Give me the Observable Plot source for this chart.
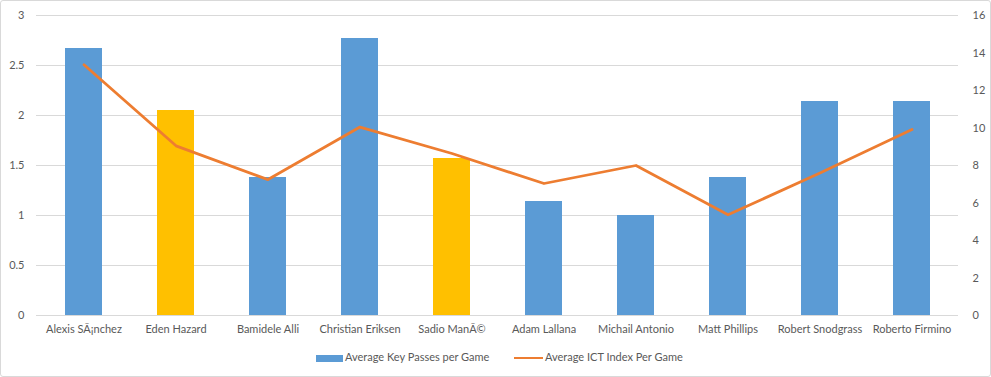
<!DOCTYPE html>
<html><head><meta charset="utf-8">
<script src="https://cdn.jsdelivr.net/npm/d3@7"></script>
<script src="https://cdn.jsdelivr.net/npm/@observablehq/plot@0.6"></script>
<style>
html,body{margin:0;padding:0;background:#fff;}
#frame{position:relative;width:989px;height:375px;border:1px solid #d9d9d9;border-radius:3px;overflow:hidden;font-family:Lato,"Open Sans",sans-serif;}
#chart{position:absolute;left:0;top:0;}
#legend{position:absolute;left:0;top:348px;width:989px;font-size:11px;color:#595959;}
.item{position:absolute;top:0;white-space:nowrap;line-height:16px;}
</style></head>
<body>
<div id="frame"><div id="chart"></div><div id="legend"></div></div>
<script>
const players = ["Alexis SÃ¡nchez","Eden Hazard","Bamidele Alli","Christian Eriksen","Sadio ManÃ©","Adam Lallana","Michail Antonio","Matt Phillips","Robert Snodgrass","Roberto Firmino"];
const keyPasses = [2.67,2.05,1.38,2.77,1.57,1.14,1.0,1.38,2.14,2.14];
const ictIndex = [13.37,9.05,7.25,10.05,8.64,7.04,8.0,5.37,7.6,9.92];
const highlighted = ["Eden Hazard","Sadio ManÃ©"];
const leftTicks = [0,0.5,1,1.5,2,2.5,3];
const rightTicks = [0,2,4,6,8,10,12,14,16];
const seriesNames = ["Average Key Passes per Game","Average ICT Index Per Game"];

const leftMax = 3, rightMax = 16;
const k = leftMax / rightMax;
const rows = players.map((p,i)=>({player:p, kp:keyPasses[i], ict:ictIndex[i], ictScaled:ictIndex[i]*k, hl:highlighted.includes(p)}));

const textColor = "#595959";
const plot = Plot.plot({
  width: 989, height: 345,
  marginLeft: 35, marginRight: 32, marginTop: 14, marginBottom: 31,
  style: {fontFamily: "Lato, 'Open Sans', sans-serif", fontSize: "11px", color: textColor, background: "transparent"},
  x: {domain: players, paddingInner: 0.6, paddingOuter: 0.3, label: null},
  y: {domain: [0, leftMax], label: null},
  marks: [
    Plot.gridY(leftTicks, {stroke: "#d9d9d9", strokeOpacity: 1}),
    Plot.barY(rows, {x: "player", y: "kp", fill: d => d.hl ? "#FFC000" : "#5B9BD5"}),
    Plot.line(rows, {x: "player", y: "ictScaled", stroke: "#ED7D31", strokeWidth: 2.8, curve: "linear"}),
    Plot.axisY(leftTicks, {anchor: "left", tickSize: 0, tickPadding: 12, tickFormat: d => String(d), label: null, fill: textColor}),
    Plot.axisY(rightTicks.map(v => v*k), {anchor: "right", tickSize: 0, tickPadding: 14, tickFormat: v => String(Math.round(v/k)), label: null, fill: textColor}),
    Plot.axisX({tickSize: 0, tickPadding: 10, label: null, fill: textColor})
  ]
});
document.getElementById("chart").appendChild(plot);

const legend = document.getElementById("legend");
legend.innerHTML = `
<div class="item" style="left:315px"><span style="display:inline-block;width:27px;height:7px;background:#5B9BD5;vertical-align:middle;margin-right:2px"></span>${seriesNames[0]}</div>
<div class="item" style="left:513px"><span style="display:inline-block;width:29px;height:2.5px;background:#ED7D31;vertical-align:middle;margin-right:2px"></span>${seriesNames[1]}</div>`;
</script>
</body></html>
